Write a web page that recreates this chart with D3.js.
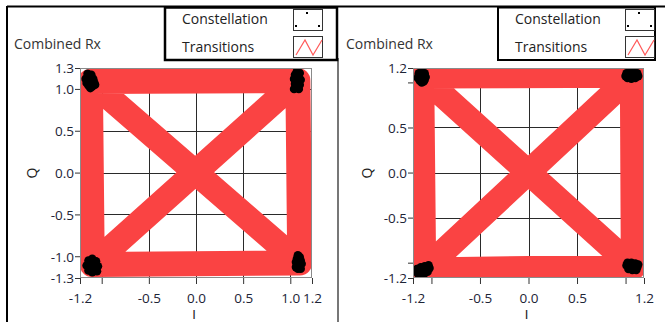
<!DOCTYPE html>
<html>
<head>
<meta charset="utf-8">
<script src="https://cdn.jsdelivr.net/npm/d3@7"></script>
<style>
  html, body { margin: 0; padding: 0; background: #fff; }
  svg { display: block; font-family: "Open Sans", "Noto Sans", sans-serif; }
</style>
</head>
<body>
<svg id="chart" width="665" height="322"></svg>
<script>
// ---- shared labels ----
const graphTitle = "Combined Rx";
const legendLabels = ["Constellation", "Transitions"];
const xAxisName = "I";
const yAxisName = "Q";
const gridValues = [-1, -0.5, 0, 0.5, 1];

// ---- left graph ----
const leftIRange = [-1.23, 1.23];
const leftQRange = [-1.26, 1.25];
const leftITicks = [-1.23, -1, -0.5, 0, 0.5, 1, 1.23];
const leftIHidden = [-1];
const leftQTicks = [-1.26, -1, -0.5, 0, 0.5, 1, 1.25];
const leftQHidden = [];
// symbol path: TL, TR, BR, BL, TL, BR, TR, BL
const leftTransitionI = [-1.12, 1.08, 1.10, -1.10, -1.12, 1.10, 1.08, -1.10];
const leftTransitionQ = [1.09, 1.10, -1.08, -1.10, 1.09, -1.08, 1.10, -1.10];
const leftConstellation = [
  [-1.15, 1.18], [-1.11, 1.17], [-1.13, 1.13], [-1.17, 1.12], [-1.09, 1.12], [-1.12, 1.09],
  [-1.16, 1.07], [-1.08, 1.08], [-1.14, 1.04], [-1.10, 1.03], [-1.12, 1.01], [-1.07, 1.05], [-1.14, 1.10],
  [1.07, 1.21], [1.10, 1.19], [1.05, 1.17], [1.09, 1.14], [1.04, 1.12], [1.11, 1.11],
  [1.07, 1.09], [1.05, 1.06], [1.10, 1.05], [1.07, 1.02], [1.04, 1.00], [1.09, 1.00], [1.08, 1.15],
  [-1.10, -1.03], [-1.14, -1.05], [-1.06, -1.06], [-1.12, -1.09], [-1.08, -1.11], [-1.16, -1.11],
  [-1.04, -1.12], [-1.11, -1.14], [-1.14, -1.17], [-1.07, -1.16], [-1.10, -1.19], [-1.05, -1.18], [-1.12, -1.12],
  [1.08, -0.99], [1.10, -1.01], [1.07, -1.03], [1.11, -1.05], [1.06, -1.07], [1.09, -1.08],
  [1.12, -1.09], [1.07, -1.11], [1.10, -1.13], [1.08, -1.15], [1.11, -1.15], [1.06, -1.13], [1.09, -1.04]
];

// ---- right graph ----
const rightIRange = [-1.19, 1.19];
const rightQRange = [-1.17, 1.16];
const rightITicks = [-1.19, -1, -0.5, 0, 0.5, 1, 1.19];
const rightIHidden = [-1, 1];
const rightQTicks = [-1.17, -1, -0.5, 0, 0.5, 1, 1.16];
const rightQHidden = [-1, 1];
const rightTransitionI = [-1.10, 1.07, 1.08, -1.08, -1.10, 1.08, 1.07, -1.08];
const rightTransitionQ = [1.07, 1.08, -1.05, -1.08, 1.07, -1.05, 1.08, -1.08];
const rightConstellation = [
  [-1.10, 1.12], [-1.13, 1.10], [-1.07, 1.10], [-1.11, 1.07], [-1.14, 1.05], [-1.06, 1.06],
  [-1.09, 1.04], [-1.12, 1.02], [-1.08, 1.01], [-1.10, 1.00], [-1.13, 1.08], [-1.07, 1.03],
  [1.01, 1.10], [1.04, 1.12], [1.08, 1.12], [1.12, 1.10], [1.00, 1.07], [1.05, 1.08],
  [1.09, 1.08], [1.13, 1.07], [1.02, 1.05], [1.06, 1.04], [1.10, 1.05], [1.07, 1.11], [1.04, 1.06],
  [-1.03, -1.03], [-1.07, -1.04], [-1.11, -1.05], [-1.15, -1.07], [-1.05, -1.07], [-1.09, -1.08],
  [-1.13, -1.10], [-1.02, -1.06], [-1.07, -1.11], [-1.11, -1.13], [-1.08, -1.13], [-1.04, -1.10], [-1.14, -1.12],
  [1.02, -1.00], [1.06, -1.00], [1.10, -1.01], [1.13, -1.02], [1.01, -1.03], [1.05, -1.04],
  [1.09, -1.05], [1.12, -1.05], [1.03, -1.07], [1.07, -1.08], [1.11, -1.08], [1.04, -1.05], [1.08, -1.03]
];

const RED = "#fa4343";
const svg = d3.select("#chart");

// panel frames
svg.append("line").attr("x1", 7).attr("x2", 665).attr("y1", 6.5).attr("y2", 6.5)
  .attr("stroke", "#000").attr("stroke-width", 2);
svg.append("line").attr("x1", 7).attr("x2", 7).attr("y1", 6).attr("y2", 322)
  .attr("stroke", "#000").attr("stroke-width", 2);
svg.append("line").attr("x1", 338).attr("x2", 338).attr("y1", 58).attr("y2", 322)
  .attr("stroke", "#777").attr("stroke-width", 2);

function fmt(v) { return v.toFixed(1); }

function drawGraph(cfg) {
  const g = svg.append("g");
  const x = d3.scaleLinear().domain(cfg.iRange).range([cfg.left, cfg.right]);
  const y = d3.scaleLinear().domain(cfg.qRange).range([cfg.bottom, cfg.top]);

  const clipId = "clip-" + cfg.id;
  svg.append("clipPath").attr("id", clipId)
    .append("rect").attr("x", cfg.left).attr("y", cfg.top)
    .attr("width", cfg.right - cfg.left).attr("height", cfg.bottom - cfg.top);

  // grid
  const grid = g.append("g").attr("stroke", "#2a2a2a").attr("stroke-width", 1);
  grid.selectAll(".gx").data(gridValues).join("line")
    .attr("x1", d => Math.round(x(d)) + 0.5).attr("x2", d => Math.round(x(d)) + 0.5)
    .attr("y1", cfg.top).attr("y2", cfg.bottom);
  grid.selectAll(".gy").data(gridValues).join("line")
    .attr("y1", d => Math.round(y(d)) + 0.5).attr("y2", d => Math.round(y(d)) + 0.5)
    .attr("x1", cfg.left).attr("x2", cfg.right);

  // transitions
  const pts = cfg.transI.map((v, i) => [v, cfg.transQ[i]]);
  g.append("path")
    .attr("clip-path", `url(#${clipId})`)
    .attr("d", d3.line().x(d => x(d[0])).y(d => y(d[1]))(pts))
    .attr("fill", "none").attr("stroke", RED).attr("stroke-width", 25)
    .attr("stroke-linejoin", "round").attr("stroke-linecap", "round");

  // constellation samples
  g.append("g").attr("clip-path", `url(#${clipId})`)
    .selectAll("circle").data(cfg.constellation).join("circle")
    .attr("cx", d => x(d[0])).attr("cy", d => y(d[1])).attr("r", 4.3).attr("fill", "#000");

  // plot frame
  g.append("rect").attr("x", cfg.left + 0.5).attr("y", cfg.top + 0.5)
    .attr("width", cfg.right - cfg.left - 1).attr("height", cfg.bottom - cfg.top - 1)
    .attr("fill", "none").attr("stroke", "#8a8a8a").attr("stroke-width", 1);

  // axes
  const xAxis = g.append("g").attr("transform", `translate(0,${cfg.bottom})`)
    .call(d3.axisBottom(x).tickValues(cfg.iTicks).tickSize(6).tickSizeOuter(0)
      .tickFormat(d => cfg.iHidden.includes(d) ? "" : fmt(d)));
  const yAxis = g.append("g").attr("transform", `translate(${cfg.left},0)`)
    .call(d3.axisLeft(y).tickValues(cfg.qTicks).tickSize(5).tickSizeOuter(0)
      .tickFormat(d => cfg.qHidden.includes(d) ? "" : fmt(d)));
  [xAxis, yAxis].forEach(a => {
    a.select(".domain").remove();
    a.selectAll(".tick line").attr("stroke", "#333");
    a.selectAll("text").attr("fill", "#1c2436").attr("font-size", 13.5)
      .attr("font-family", "'Open Sans', sans-serif");
  });
  xAxis.selectAll("text").attr("y", 24.5).attr("dy", null);
  yAxis.selectAll("text").attr("x", -6).attr("dy", "0.36em");

  // titles
  g.append("text").attr("x", cfg.titleX).attr("y", 49).attr("font-size", 14)
    .attr("fill", "#333").text(graphTitle);
  g.append("text").attr("x", (cfg.left + cfg.right) / 2 - 2).attr("y", 319)
    .attr("text-anchor", "middle").attr("font-size", 13)
    .attr("font-family", "'Liberation Sans', sans-serif").attr("fill", "#222").text(xAxisName);
  g.append("text").attr("transform", `translate(${cfg.qLabelX},173) rotate(-90)`)
    .attr("text-anchor", "middle").attr("font-size", 14).attr("fill", "#222").text(yAxisName);

  // legend
  const lg = g.append("g");
  lg.append("rect").attr("x", cfg.legX).attr("y", 7.5).attr("width", cfg.legW).attr("height", 52.5)
    .attr("fill", "#fff").attr("stroke", "#000").attr("stroke-width", cfg.legStroke);
  legendLabels.forEach((lab, i) => {
    lg.append("text").attr("x", cfg.legX + 17).attr("y", 24 + i * 28)
      .attr("font-size", 14).attr("fill", "#222").text(lab);
    lg.append("rect").attr("x", cfg.iconX + 0.5).attr("y", 9.5 + i * 27)
      .attr("width", 29).attr("height", 21)
      .attr("fill", "#fff").attr("stroke", "#333").attr("stroke-width", 1);
  });
  [[13, 3], [2, 16], [25, 16]].forEach(p => {
    lg.append("rect").attr("x", cfg.iconX + p[0]).attr("y", 9 + p[1])
      .attr("width", 2).attr("height", 2).attr("fill", "#000");
  });
  lg.append("polyline")
    .attr("points", [[3, 19], [12, 4], [20, 19], [29, 4]]
      .map(p => `${cfg.iconX + p[0]},${36 + p[1]}`).join(" "))
    .attr("fill", "none").attr("stroke", "#ff5a5a").attr("stroke-width", 1.2);
}

drawGraph({
  id: "left", left: 80, right: 312, top: 68, bottom: 278,
  iRange: leftIRange, qRange: leftQRange,
  iTicks: leftITicks, iHidden: leftIHidden, qTicks: leftQTicks, qHidden: leftQHidden,
  transI: leftTransitionI, transQ: leftTransitionQ, constellation: leftConstellation,
  titleX: 14, qLabelX: 37, legX: 165, legW: 172, legStroke: 2.5, iconX: 293
});
drawGraph({
  id: "right", left: 413, right: 644, top: 68, bottom: 278,
  iRange: rightIRange, qRange: rightQRange,
  iTicks: rightITicks, iHidden: rightIHidden, qTicks: rightQTicks, qHidden: rightQHidden,
  transI: rightTransitionI, transQ: rightTransitionQ, constellation: rightConstellation,
  titleX: 346, qLabelX: 372, legX: 498, legW: 157, legStroke: 2, iconX: 625
});
</script>
</body>
</html>
